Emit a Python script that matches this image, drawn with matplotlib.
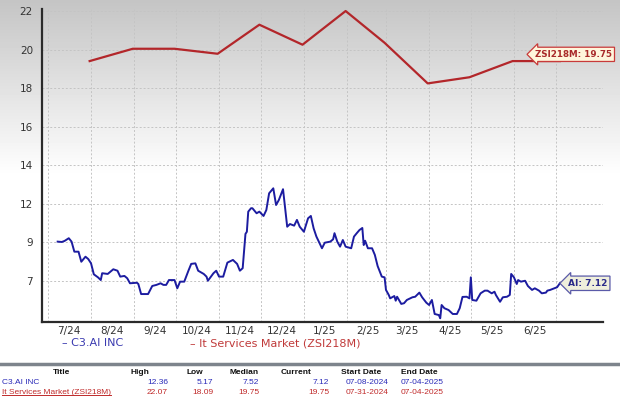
import matplotlib
matplotlib.use('Agg')
import matplotlib.pyplot as plt
import matplotlib.dates as mdates
from matplotlib.ticker import FixedLocator, FuncFormatter
import numpy as np
import pandas as pd

# --- Data ---
ai_dates = [
    '2024-07-08', '2024-07-11', '2024-07-13', '2024-07-16', '2024-07-18', '2024-07-20',
    '2024-07-23', '2024-07-25', '2024-07-28', '2024-07-30', '2024-08-01', '2024-08-03',
    '2024-08-06', '2024-08-08', '2024-08-09', '2024-08-13', '2024-08-17', '2024-08-20',
    '2024-08-22', '2024-08-25', '2024-08-27', '2024-08-29', '2024-09-03', '2024-09-04',
    '2024-09-06', '2024-09-11', '2024-09-14', '2024-09-17', '2024-09-20', '2024-09-22',
    '2024-09-24', '2024-09-26', '2024-09-30', '2024-10-02', '2024-10-04', '2024-10-07',
    '2024-10-10', '2024-10-12', '2024-10-15', '2024-10-17', '2024-10-21', '2024-10-23',
    '2024-10-24', '2024-10-28', '2024-10-30', '2024-11-01', '2024-11-04', '2024-11-07',
    '2024-11-11', '2024-11-14', '2024-11-16', '2024-11-18', '2024-11-20', '2024-11-21',
    '2024-11-22', '2024-11-24', '2024-11-25', '2024-11-28', '2024-11-30', '2024-12-03',
    '2024-12-05', '2024-12-07', '2024-12-10', '2024-12-12', '2024-12-14', '2024-12-17',
    '2024-12-20', '2024-12-22', '2024-12-25', '2024-12-27', '2024-12-29', '2025-01-01',
    '2025-01-04', '2025-01-06', '2025-01-08', '2025-01-10', '2025-01-14', '2025-01-16',
    '2025-01-20', '2025-01-22', '2025-01-23', '2025-01-25', '2025-01-27', '2025-01-29',
    '2025-01-31', '2025-02-04', '2025-02-06', '2025-02-08', '2025-02-10', '2025-02-12',
    '2025-02-13', '2025-02-14', '2025-02-16', '2025-02-19', '2025-02-21', '2025-02-23',
    '2025-02-26', '2025-02-28', '2025-03-01', '2025-03-03', '2025-03-04', '2025-03-07',
    '2025-03-08', '2025-03-09', '2025-03-12', '2025-03-14', '2025-03-16', '2025-03-20',
    '2025-03-22', '2025-03-25', '2025-03-27', '2025-03-30', '2025-04-01', '2025-04-03',
    '2025-04-05', '2025-04-08', '2025-04-09', '2025-04-10', '2025-04-12', '2025-04-15',
    '2025-04-18', '2025-04-21', '2025-04-23', '2025-04-25', '2025-04-28', '2025-04-30',
    '2025-05-01', '2025-05-02', '2025-05-05', '2025-05-08', '2025-05-11', '2025-05-13',
    '2025-05-16', '2025-05-18', '2025-05-19', '2025-05-22', '2025-05-24', '2025-05-27',
    '2025-05-29', '2025-05-30', '2025-06-01', '2025-06-03', '2025-06-04', '2025-06-06',
    '2025-06-09', '2025-06-11', '2025-06-14', '2025-06-16', '2025-06-19', '2025-06-21',
    '2025-06-24', '2025-06-25', '2025-06-27', '2025-06-30', '2025-07-02', '2025-07-04',
]
ai_close = [
    9.44, 9.42, 9.48, 9.63, 9.44, 8.88,
    8.88, 8.32, 8.60, 8.47, 8.23, 7.62,
    7.45, 7.30, 7.68, 7.64, 7.90, 7.82,
    7.49, 7.53, 7.40, 7.12, 7.15, 7.08,
    6.52, 6.52, 6.97, 7.03, 7.12, 7.03,
    7.03, 7.30, 7.30, 6.84, 7.21, 7.21,
    7.82, 8.20, 8.23, 7.82, 7.64, 7.49,
    7.26, 7.68, 7.82, 7.49, 7.49, 8.27,
    8.42, 8.20, 7.82, 7.96, 9.87, 9.99,
    11.11, 11.30, 11.30, 11.02, 11.11, 10.87,
    11.20, 12.13, 12.41, 11.48, 11.76, 12.36,
    10.27, 10.42, 10.33, 10.65, 10.27, 9.99,
    10.74, 10.87, 10.18, 9.72, 9.07, 9.38,
    9.44, 9.57, 9.91, 9.44, 9.16, 9.53,
    9.16, 9.07, 9.72, 9.91, 10.09, 10.20,
    9.25, 9.49, 9.07, 9.07, 8.70, 8.08,
    7.49, 7.45, 6.75, 6.47, 6.28, 6.41,
    6.15, 6.37, 5.97, 6.01, 6.19, 6.34,
    6.37, 6.60, 6.34, 6.04, 5.91, 6.19,
    5.41, 5.35, 5.17, 5.91, 5.73, 5.63,
    5.41, 5.41, 5.73, 6.36, 6.37, 6.28,
    7.45, 6.19, 6.15, 6.56, 6.71, 6.71,
    6.56, 6.65, 6.47, 6.09, 6.34, 6.37,
    6.47, 7.64, 7.45, 7.08, 7.30, 7.21,
    7.26, 6.97, 6.75, 6.84, 6.71, 6.56,
    6.60, 6.71, 6.75, 6.84, 6.90, 7.12,
]

zsi_dates = ['2024-07-31', '2024-08-31', '2024-09-30', '2024-10-31', '2024-11-30',
             '2024-12-31', '2025-01-31', '2025-02-28', '2025-03-31', '2025-04-30',
             '2025-05-31', '2025-06-30', '2025-07-04']
zsi_value = [19.40, 20.04, 20.04, 19.78, 21.29, 20.25, 22.00, 20.35, 18.24, 18.56,
             19.40, 19.40, 19.40]

month_labels = ['7/24', '8/24', '9/24', '10/24', '11/24', '12/24',
                '1/25', '2/25', '3/25', '4/25', '5/25', '6/25']

table_header = ['Title', 'High', 'Low', 'Median', 'Current', 'Start Date', 'End Date']
table_rows = [
    ['C3.AI INC', '12.36', '5.17', '7.52', '7.12', '07-08-2024', '07-04-2025'],
    ['It Services Market (ZSI218M)', '22.07', '18.09', '19.75', '19.75', '07-31-2024', '07-04-2025'],
]
ai_current = 7.12
zsi_current = 19.75

BLUE = '#1c1ca0'
RED = '#b3262a'
W, H = 620, 397

ai_x = pd.to_datetime(ai_dates)
zsi_x = pd.to_datetime(zsi_dates)

fig = plt.figure(figsize=(6.2, 3.97), dpi=100)
fig.patch.set_facecolor('white')

# --- gray-to-white background gradient ---
bg = fig.add_axes([0, 0, 1, 1], zorder=-10)
rows = np.arange(H)
level = np.clip(0.77 + 0.23 * rows / 175, 0, 1)
bg.imshow(np.tile(level[:, None], (1, 4)), cmap='gray', vmin=0, vmax=1,
          aspect='auto', extent=[0, 1, 0, 1])
bg.axis('off')

# --- main axes (index) ---
ax = fig.add_axes([42 / W, 1 - 321.7 / H, (603 - 42) / W, (321.7 - 9.3) / H])
ax.patch.set_alpha(0)
ax.plot(zsi_x, zsi_value, color=RED, lw=1.6, zorder=3)
ax.set_ylim(5.86, 22.09)
ax.set_xlim(pd.Timestamp('2024-06-26 18:00'), pd.Timestamp('2025-08-04'))
ax.yaxis.set_major_locator(FixedLocator(np.arange(8, 23, 2)))
ax.yaxis.set_major_formatter(FuncFormatter(lambda v, _: f'{v:.0f}' if v >= 13 else ''))

month_starts = pd.date_range('2024-07-01', '2025-07-01', freq='MS')
mid_months = month_starts[:-1] + pd.Timedelta(days=15)
ax.xaxis.set_major_locator(FixedLocator(mdates.date2num(month_starts)))
ax.xaxis.set_major_formatter(FuncFormatter(lambda v, _: ''))
ax.xaxis.set_minor_locator(FixedLocator(mdates.date2num(mid_months)))
ax.xaxis.set_minor_formatter(FuncFormatter(
    lambda v, p: month_labels[p] if p is not None and p < len(month_labels) else ''))

ax.grid(True, which='major', color='#c4c4c4', linestyle=(0, (2, 2)), linewidth=0.7)
ax.tick_params(axis='both', which='both', length=0, labelsize=7.5, colors='#333333')
ax.tick_params(axis='y', pad=6.5)
ax.tick_params(axis='x', which='minor', pad=3)
for s in ['top', 'right']:
    ax.spines[s].set_visible(False)
for s in ['left', 'bottom']:
    ax.spines[s].set_color('#2a2a2a')
    ax.spines[s].set_linewidth(1.6)

# --- stock on its own scale, labelled on the left at the shared grid lines ---
ax2 = ax.twinx()
ax2.patch.set_alpha(0)
ax2.plot(ai_x, ai_close, color=BLUE, lw=1.4, zorder=3)
ax2.set_ylim(4.98, 22.38)
r0, r1 = ax.get_ylim()
b0, b1 = ax2.get_ylim()
ai_ticks = [b0 + (r - r0) * (b1 - b0) / (r1 - r0) for r in (8, 10, 12)]
ax2.yaxis.set_major_locator(FixedLocator(ai_ticks))
ax2.yaxis.set_major_formatter(FuncFormatter(lambda v, _: f'{v:.0f}'))
ax2.yaxis.tick_left()
ax2.tick_params(axis='y', length=0, labelsize=7.5, colors='#333333', pad=6.5)
for s in ax2.spines.values():
    s.set_visible(False)

# --- end-of-line value tags ---
ax2.annotate(f'AI: {ai_current:.2f}', xy=(ai_x[-1], ai_current), xytext=(8, 0),
             textcoords='offset pixels', ha='left', va='center',
             fontsize=6.5, fontweight='bold', color='#2a2a8a', zorder=6,
             bbox=dict(boxstyle='larrow,pad=0.3', fc='#efefdc', ec='#5a5aa8', lw=0.9))
ax.annotate(f'ZSI218M: {zsi_current:.2f}', xy=(zsi_x[-1], zsi_current), xytext=(-25, 0),
            textcoords='offset pixels', ha='left', va='center',
            fontsize=6.3, fontweight='bold', color='#a82a2a', zorder=6,
            bbox=dict(boxstyle='larrow,pad=0.3', fc='#fff6dc', ec='#c83a3a', lw=0.9))

# --- legend ---
fig.text(62 / W, 1 - 343 / H, '\u2013 C3.AI INC', color='#3a3ab0', fontsize=8, va='center')
fig.text(190 / W, 1 - 343 / H, '\u2013 It Services Market (ZSI218M)', color='#c03a3a',
         fontsize=8, va='center')

# --- summary table ---
fig.add_artist(plt.Line2D([0, 1], [1 - 364 / H] * 2, color='#7d848c', lw=2.5))
hdr_x = [62, 140, 195, 244, 296, 361, 419]
for hx, h in zip(hdr_x, table_header):
    fig.text(hx / W, 1 - 372 / H, h, ha='center', va='center', fontsize=6,
             fontweight='bold', family='Liberation Sans', color='#111111')
val_x = [2, 168, 213, 259, 329, 367, 422]
val_ha = ['left', 'right', 'right', 'right', 'right', 'center', 'center']
for row, ry, col in zip(table_rows, [382, 392.5], ['#2a2ab8', '#c02a2a']):
    cells = [fig.text(vx / W, 1 - ry / H, v, ha=ha, va='center', fontsize=6,
                      family='Liberation Sans', color=col)
             for vx, ha, v in zip(val_x, val_ha, row)]
    if col == '#c02a2a':
        fig.canvas.draw()
        bb = cells[0].get_window_extent()
        fig.add_artist(plt.Line2D([bb.x0 / W, bb.x1 / W], [(bb.y0 + 1.0) / H] * 2,
                                  color=col, lw=0.7))

fig.savefig('out.png', dpi=100)
